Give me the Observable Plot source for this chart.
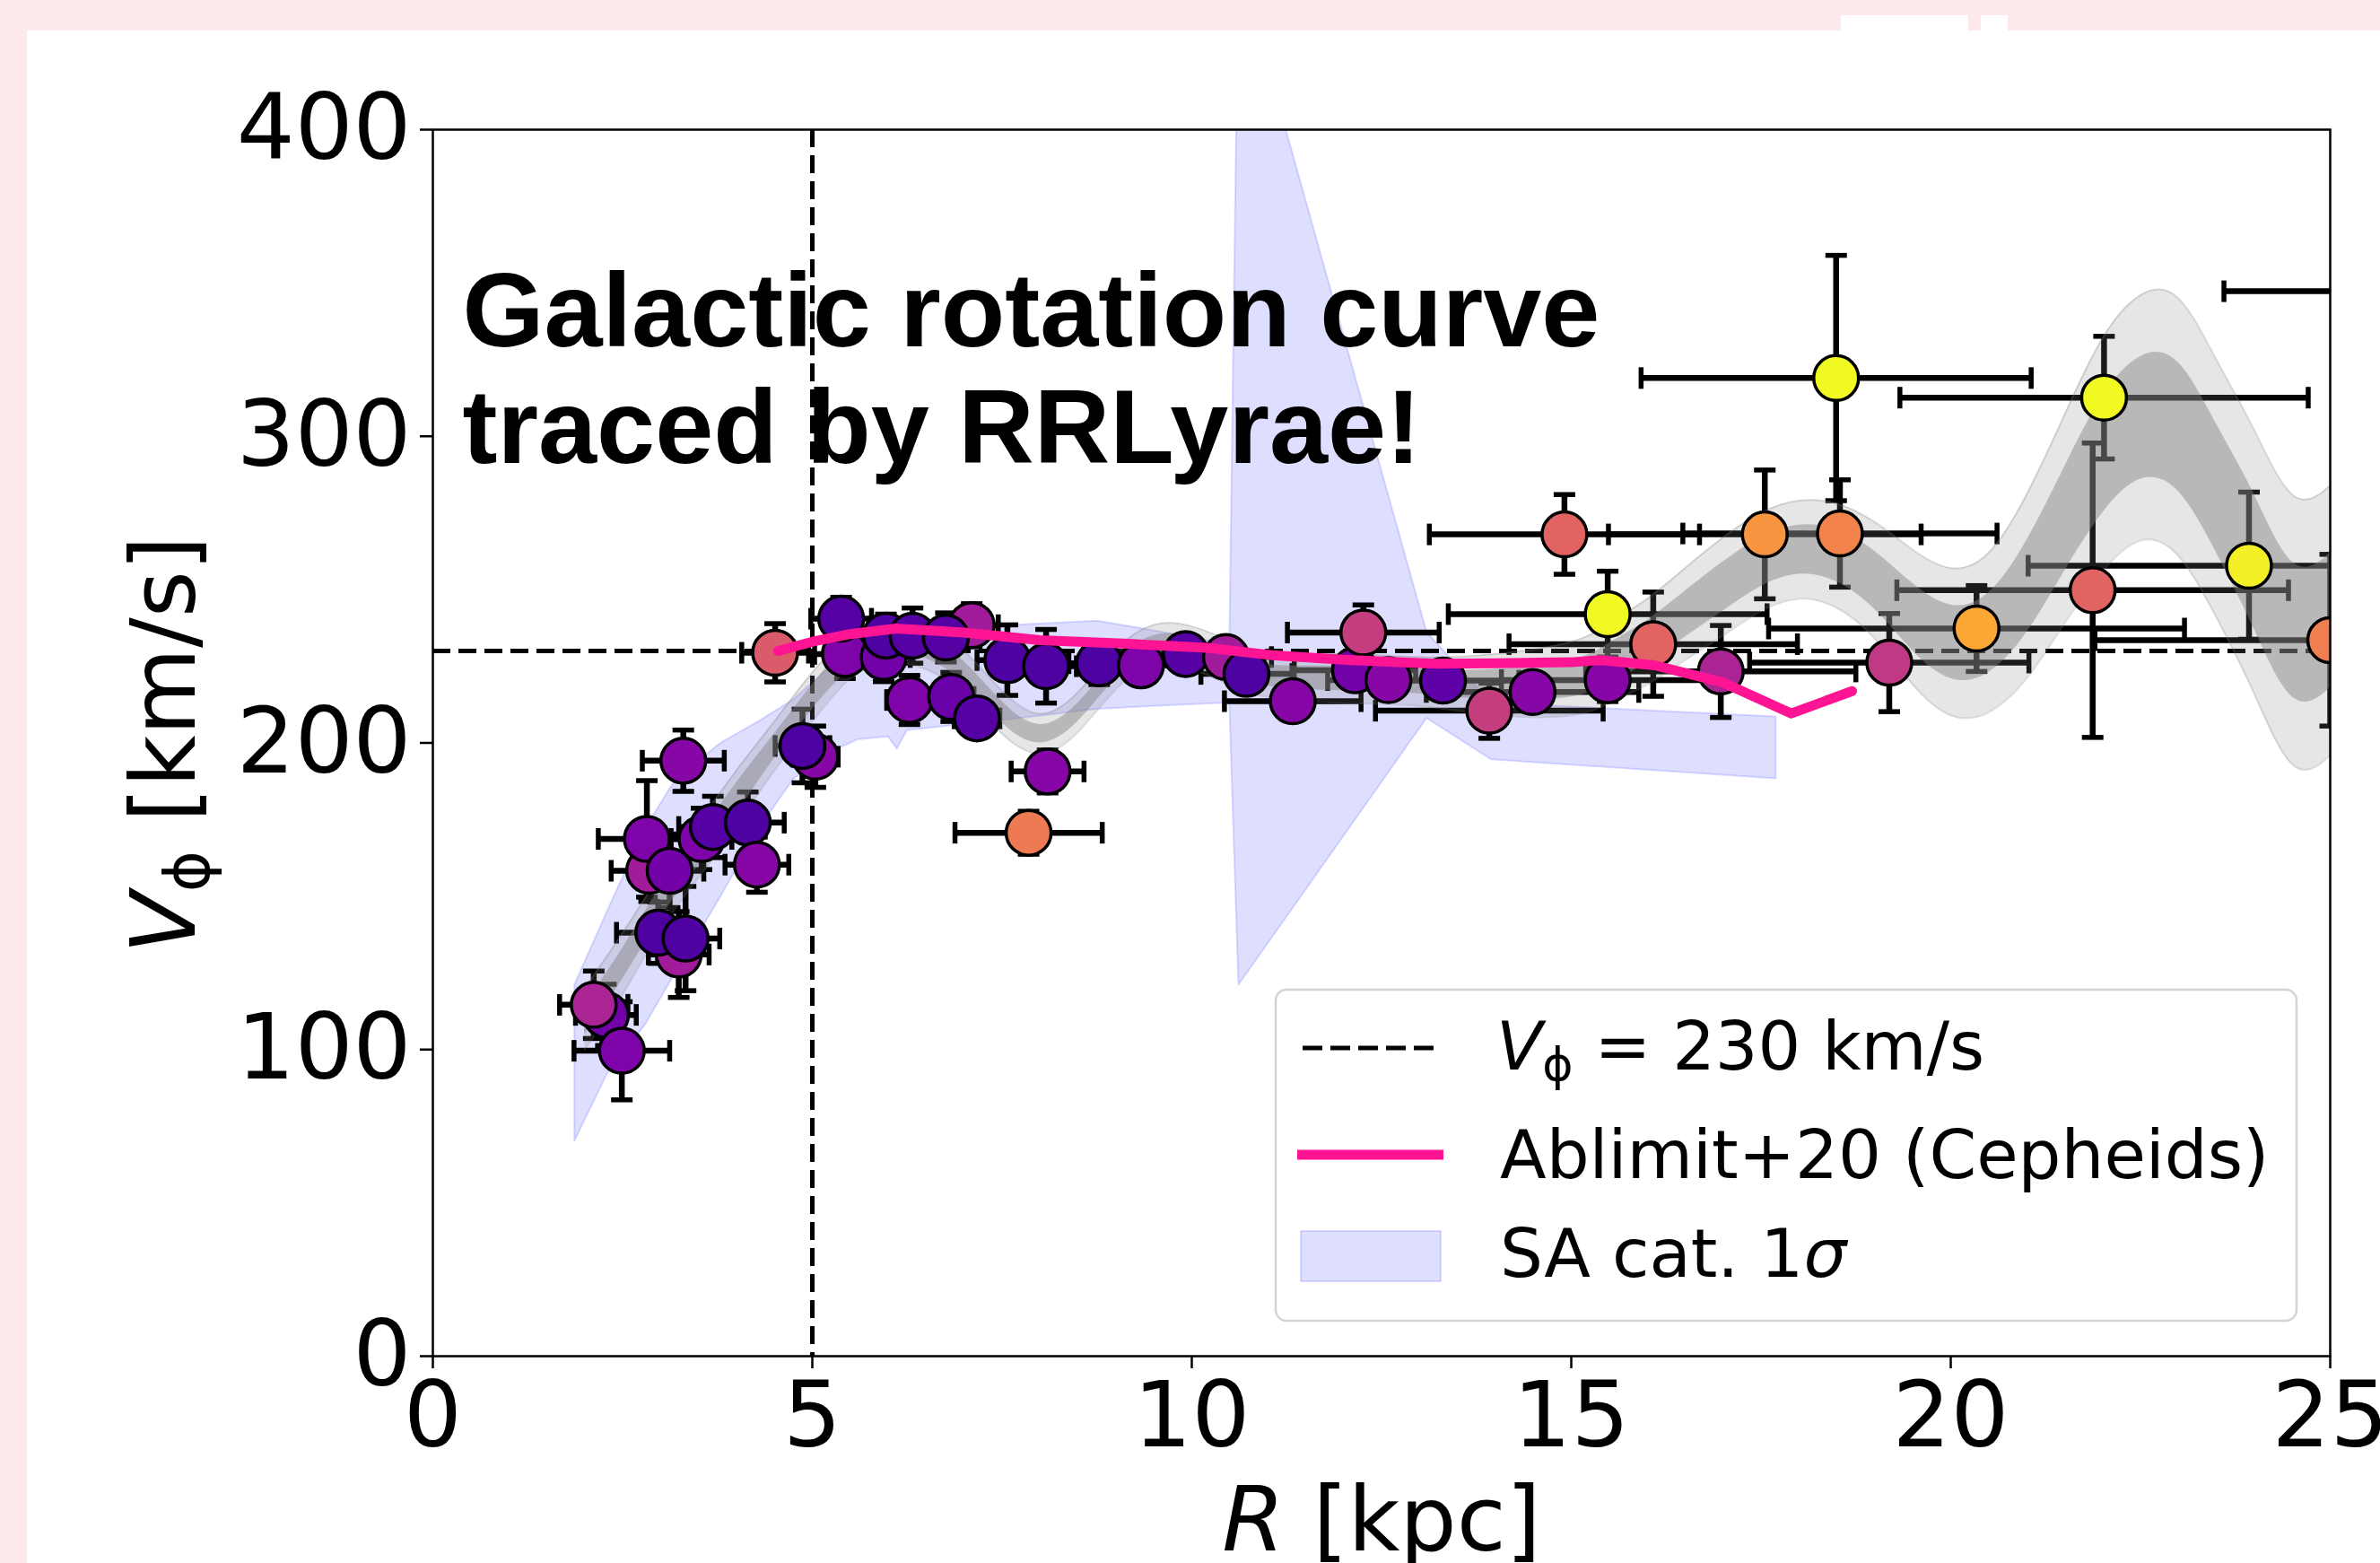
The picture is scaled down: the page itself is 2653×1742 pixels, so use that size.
<!DOCTYPE html>
<html><head><meta charset="utf-8">
<script src="https://cdn.jsdelivr.net/npm/d3@7"></script>
<script src="https://cdn.jsdelivr.net/npm/@observablehq/plot@0.6"></script>
<style>
html,body{margin:0;padding:0;width:2653px;height:1742px;overflow:hidden;background:#fde9e9;}
#panel{position:absolute;left:30px;top:34px;width:2623px;height:1708px;background:#fff;}
.notch{position:absolute;background:#fff;top:17px;height:17px;}
#chart{position:absolute;left:0;top:0;}
</style></head><body>
<div id="panel"></div>
<div class="notch" style="left:2052px;width:142px"></div>
<div class="notch" style="left:2208px;width:30px"></div>
<div id="chart"></div>
<script>
// ---- RR Lyrae binned rotation curve points (drawing order) ----
const ptR  = [2.28,2.12,2.49,2.85,2.82,3.12,3.24,2.97,3.33,3.30,3.54,3.69,4.15,4.27,4.51,5.04,4.87,5.43,5.38,5.94,5.97,6.28,6.32,7.10,6.76,6.83,7.17,7.57,8.08,8.10,7.85,8.78,9.33,9.92,10.45,10.72,11.33,12.15,12.26,12.59,13.31,13.92,14.49,14.91,15.48,15.48,16.08,16.97,17.55,18.54,18.49,19.19,20.34,21.87,22.02,23.93,25.00,26.50];
const ptV  = [111.3,114.6,99.6,158.3,168.7,158.3,131.0,138.1,136.2,194.2,168.7,172.6,174.0,160.3,229.4,195.5,199.0,229.0,240.5,228.0,235.0,214.0,235.0,238.4,234.4,215.0,208.0,227.0,225.0,190.7,170.7,226.0,225.3,229.0,228.0,222.5,213.6,223.7,236.0,220.5,220.3,210.5,216.6,268.0,220.5,242.0,232.2,223.3,268.0,268.3,319.0,226.2,237.3,249.8,312.6,257.8,233.5,347.3];
const ptXerr = [0.40,0.45,0.63,0.50,0.64,0.45,0.40,0.55,0.45,0.54,0.40,0.45,0.48,0.42,0.44,0.30,0.36,0.40,0.40,0.35,0.35,0.30,0.35,0.35,0.35,0.30,0.30,0.40,0.40,0.48,0.97,0.40,0.50,0.50,0.60,0.60,0.90,0.80,1.00,0.80,1.00,1.50,1.40,1.78,1.40,2.10,1.90,1.78,2.06,2.07,2.57,1.84,2.74,2.58,2.69,2.91,3.10,2.90];
const ptYerr = [10,11,16,10,19,12,14,10,17,10,10,10,10,9,9.5,10,12,8,7,8,7,8,9,7,8,8,6,11.5,12,7,7,7,6,6,6,6,6,6,9,6,6,9,6,13,7,14,17,15,21,17.5,40,16,14,48,20,24,28,15];
const ptColor = [0.22,0.38,0.25,0.35,0.25,0.22,0.35,0.13,0.13,0.27,0.25,0.15,0.13,0.27,0.57,0.27,0.13,0.25,0.15,0.22,0.13,0.25,0.15,0.35,0.15,0.20,0.15,0.13,0.13,0.27,0.67,0.13,0.25,0.15,0.35,0.13,0.27,0.22,0.47,0.27,0.17,0.47,0.27,0.60,0.27,1.0,0.60,0.38,0.75,0.70,1.0,0.45,0.80,0.60,1.0,0.98,0.68,0.9];

// ---- model band (1 sigma and 2 sigma) ----
const bandR   = [2,2.5,3,3.5,4,4.5,5,5.5,6,6.5,7,7.5,8,8.5,9,9.5,10,10.5,11,12,13,14,15,15.5,16,16.5,17,17.5,18,18.5,19,19.5,20,20.5,21,21.5,22,22.5,23,23.5,24,24.5,25,25.5];
const band2Lo = [100,118,139,156,173,191,207,221,226,224,216,203,196.5,203.5,217.5,225.5,224,219,215,213,212,209,209,213,219,227,235,243,247,244,234,219,209,210,221,239,256,266,261,241,216,193,196,211];
const band1Lo = [105,123,143,160,177,195,211,224,229.5,227.5,219.5,206.5,200,207,221,229,227.5,222.5,218.5,217,216,214,215,219.5,226,234.5,243,251,255,252.5,243.5,230,221,223,236,256,275,286,282,262,237,215,218,233];
const band1Hi = [115,133,153,170,187,203,219,232,236.5,234.5,226.5,213.5,206,213,227,235,234.5,229.5,225.5,225,224,224,227,232.5,240,249.5,259,267,271,269.5,262.5,252,245,249,266,290,313,326,324,304,281,259,262,277];
const band2Hi = [120,138,157,174,191,207,223,235,240,238,230,217,209.5,216.5,230.5,238.5,238,233,229,229,228,229,233,239,247,257,267,275,279,278,272,263,257,262,281,307,332,346,345,325,302,281,284,299];

// ---- SA cat. 1 sigma region ----
const saR  = [1.87,2.3,2.8,3.2,3.8,4.3,4.75,5.25,5.6,6.0,6.12,6.25,7.0,7.74,8.76,9.57,10.5,10.62,13.1,13.95,17.7];
const saLo = [70,92,108,125,150,172,188,197,201,202,198,204,206,208,211,212,213,121,208,194.5,188.3];
const saHi = [121,145,172,188,200,207,214,225,233,236,236.5,237,238,238.5,239.7,236.3,232,455,236,213,208.5];

// ---- Ablimit+20 (Cepheids) ----
const ablR = [4.55,5.0,5.5,6.1,7.0,8.0,9.1,10.2,11.1,12.1,13.2,14.0,15.0,15.4,16.1,17.0,17.9,18.7];
const ablV = [230,233,235.5,237.3,236,233.5,232.4,231,228.5,227,225.8,226,226.3,227,225.3,219.7,209.6,216.9];

// ---- reference lines, ticks, texts ----
const refV = [230];
const refR = [5];
const xTicks = [0,5,10,15,20,25];
const yTicks = [0,100,200,300,400];
const titleLines = ["Galactic rotation curve", "traced by RRLyrae!"];
const legendLabels = ["= 230 km/s", "Ablimit+20 (Cepheids)", "SA cat. 1"];

const points = ptR.map((r,i)=>({R:r, V:ptV[i], xe:ptXerr[i], ye:ptYerr[i], c:ptColor[i]}));
const band = bandR.map((r,i)=>({R:r, lo2:band2Lo[i], lo1:band1Lo[i], hi1:band1Hi[i], hi2:band2Hi[i]}));
const sa = saR.map((r,i)=>({R:r, lo:saLo[i], hi:saHi[i]}));
const abl = ablR.map((r,i)=>({R:r, V:ablV[i]}));
const capsH = points.flatMap(d=>[{R:d.R, V:d.V-d.ye},{R:d.R, V:d.V+d.ye}]);
const capsV = points.flatMap(d=>[{R:d.R-d.xe, V:d.V},{R:d.R+d.xe, V:d.V}]);

const hCap = {draw(ctx,size){const r=Math.sqrt(size/Math.PI); ctx.moveTo(-r,0); ctx.lineTo(r,0);}};
const vCap = {draw(ctx,size){const r=Math.sqrt(size/Math.PI); ctx.moveTo(0,-r); ctx.lineTo(0,r);}};

const W=2653, H=1742, mL=482, mR=56, mT=144, mB=231;

const plot = Plot.plot({
  width: W, height: H,
  marginLeft: mL, marginRight: mR, marginTop: mT, marginBottom: mB,
  x: {domain:[0,25]},
  y: {domain:[0,400]},
  color: {type:"linear", scheme:"plasma", domain:[0,1]},
  style: {background:"transparent", fontFamily:"DejaVu Sans", color:"black", overflow:"hidden"},
  marks: [
    Plot.areaY(sa, {x:"R", y1:"lo", y2:"hi", fill:"blue", fillOpacity:0.13, stroke:"blue", strokeOpacity:0.13, strokeWidth:2, clip:true}),
    Plot.ruleY(refV, {stroke:"black", strokeWidth:5, strokeDasharray:"20,9"}),
    Plot.ruleX(refR, {stroke:"black", strokeWidth:5, strokeDasharray:"20,9"}),
    Plot.ruleY(points, {y:"V", x1:d=>d.R-d.xe, x2:d=>d.R+d.xe, stroke:"black", strokeWidth:6.5, clip:true}),
    Plot.ruleX(points, {x:"R", y1:d=>d.V-d.ye, y2:d=>d.V+d.ye, stroke:"black", strokeWidth:6.5, clip:true}),
    Plot.dot(capsH, {x:"R", y:"V", symbol:hCap, r:12, stroke:"black", strokeWidth:5.5, fill:"none", clip:true}),
    Plot.dot(capsV, {x:"R", y:"V", symbol:vCap, r:12, stroke:"black", strokeWidth:5.5, fill:"none", clip:true}),
    Plot.areaY(band, {x:"R", y1:"lo2", y2:"hi2", fill:"gray", fillOpacity:0.2, curve:"natural", clip:true}),
    Plot.areaY(band, {x:"R", y1:"lo1", y2:"hi1", fill:"gray", fillOpacity:0.45, curve:"natural", clip:true}),
    Plot.line(band, {x:"R", y:"hi2", stroke:"gray", strokeOpacity:0.25, strokeWidth:2, curve:"natural", clip:true}),
    Plot.line(band, {x:"R", y:"lo2", stroke:"gray", strokeOpacity:0.25, strokeWidth:2, curve:"natural", clip:true}),
    Plot.dot(points, {x:"R", y:"V", r:25, fill:"c", stroke:"black", strokeWidth:3.5, clip:true}),
    Plot.line(abl, {x:"R", y:"V", stroke:"#ff1493", strokeWidth:11, strokeLinejoin:"round", clip:true}),
    Plot.text([titleLines.join("\n")], {text:d=>d, frameAnchor:"top-left", dx:33, dy:149, lineAnchor:"top", textAnchor:"start", lineHeight:1.11, fontSize:117, fontWeight:"bold", fontFamily:"Liberation Sans, Arial, sans-serif", fill:"black"}),
    Plot.axisX({ticks:xTicks, tickSize:14, tickPadding:14, fontSize:102, strokeWidth:2.5, label:null, tickFormat:d=>String(d)}),
    Plot.axisY({ticks:yTicks, tickSize:14, tickPadding:10, fontSize:102, strokeWidth:2.5, label:null, tickFormat:d=>String(d)}),
    Plot.frame({stroke:"black", strokeWidth:2.5})
  ]
});
document.getElementById("chart").appendChild(plot);

// ---- axis labels & legend (annotation layer) ----
const svg = d3.select(plot);
const ns = "DejaVu Sans";
const ylab = svg.append("text").attr("transform","translate(217,830) rotate(-90)")
  .attr("text-anchor","middle").attr("font-family",ns).attr("font-size",100).attr("fill","black");
ylab.append("tspan").attr("font-style","italic").text("V");
ylab.append("tspan").attr("font-size",70).attr("dy",16).text("\u03D5");
ylab.append("tspan").attr("dy",-16).text(" [km/s]");

const xlab = svg.append("text").attr("x",1540).attr("y",1728).attr("text-anchor","middle")
  .attr("font-family",ns).attr("font-size",100).attr("fill","black");
xlab.append("tspan").attr("font-style","italic").text("R");
xlab.append("tspan").text(" [kpc]");

const lg = svg.append("g").attr("text-anchor","start");
lg.append("rect").attr("x",1422).attr("y",1103).attr("width",1138).attr("height",369).attr("rx",12)
  .attr("fill","white").attr("fill-opacity",0.8).attr("stroke","#d4d4d4").attr("stroke-width",2.5);
lg.append("line").attr("x1",1452).attr("x2",1601).attr("y1",1168).attr("y2",1168)
  .attr("stroke","black").attr("stroke-width",5).attr("stroke-dasharray","22,9");
const t1 = lg.append("text").attr("x",1668).attr("y",1192).attr("text-anchor","start").attr("font-family",ns).attr("font-size",75).attr("fill","black");
t1.append("tspan").attr("font-style","italic").text("V");
t1.append("tspan").attr("font-size",52).attr("dy",12).text("\u03D5");
t1.append("tspan").attr("dy",-12).text(" " + legendLabels[0]);
lg.append("line").attr("x1",1446).attr("x2",1609).attr("y1",1287).attr("y2",1287)
  .attr("stroke","#ff1493").attr("stroke-width",11);
lg.append("text").attr("x",1672).attr("y",1313).attr("text-anchor","start").attr("font-family",ns).attr("font-size",75.5).attr("fill","black").text(legendLabels[1]);
lg.append("rect").attr("x",1450).attr("y",1372).attr("width",156).attr("height",56)
  .attr("fill","blue").attr("fill-opacity",0.13).attr("stroke","blue").attr("stroke-opacity",0.13).attr("stroke-width",2);
const t3 = lg.append("text").attr("x",1672).attr("y",1423).attr("text-anchor","start").attr("font-family",ns).attr("font-size",75.5).attr("fill","black");
t3.append("tspan").text(legendLabels[2]);
t3.append("tspan").attr("font-style","italic").text("\u03C3");
</script>
</body></html>
